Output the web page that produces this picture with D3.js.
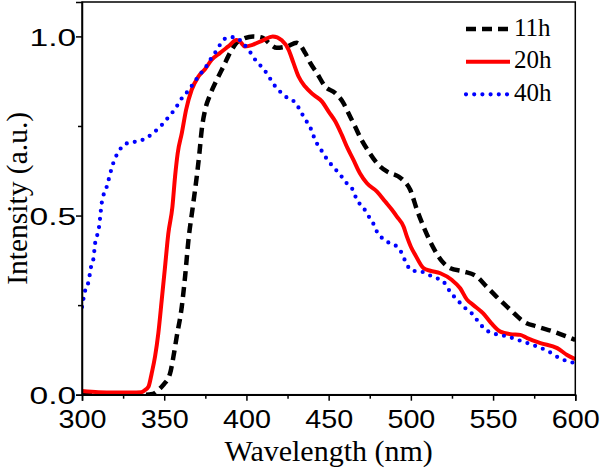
<!DOCTYPE html>
<html><head><meta charset="utf-8">
<script src="https://cdn.jsdelivr.net/npm/d3@7"></script>
<style>body{margin:0;background:#fff}</style>
</head><body>
<svg id="c" width="600" height="470"></svg>
<script>
const xTicks = [300, 350, 400, 450, 500, 550, 600];
const xMinor = [325, 375, 425, 475, 525, 575];
const yTicks = [0, 0.5, 1.0];
const yMinor = [0.25, 0.75];
const seriesNames = ["11h", "20h", "40h"];

const wl11 = [300,338,343,347.5,350,353.6,355.6,357.6,360.7,362.7,364.7,367.4,369.8,371.4,372.8,374.9,377.9,382,386,390,394,399,404,410,414,418.4,424.6,430.6,435.7,438.8,442.8,447.9,454,459,462,466,470,474.3,479.4,485.4,492.5,495,499.6,503.7,507.7,512.8,519,524,532,540,546,552,560.5,568.6,576.7,586.8,595,600];
const int11 = [0,0,0.002,0.018,0.03,0.06,0.106,0.162,0.246,0.33,0.43,0.525,0.609,0.674,0.739,0.795,0.837,0.879,0.916,0.954,0.982,0.995,1.0,0.996,0.98,0.968,0.972,0.982,0.954,0.926,0.898,0.86,0.842,0.814,0.786,0.749,0.711,0.679,0.646,0.623,0.609,0.6,0.572,0.516,0.469,0.418,0.372,0.353,0.344,0.33,0.302,0.274,0.237,0.204,0.19,0.176,0.162,0.153];

const wl20 = [300,310,320,330,336,338,340.4,342.4,344.4,346.4,348.5,350.5,352.5,355,356.6,358.2,360.7,363.3,366.7,370.8,374.9,378.9,384,389,394,396,399,404,410,416,421.5,425.6,428.6,431.7,435.7,440.8,446,450,454,458,461.5,465,469,473.3,479.4,484.4,488.5,491.5,495.6,497.6,500,502.7,507.7,511.8,517.9,525,530,534,538,544,549,554.4,560.5,566.6,570.7,578.8,589,595,600];
const int20 = [0.01,0.007,0.006,0.006,0.007,0.012,0.022,0.06,0.106,0.171,0.265,0.357,0.45,0.525,0.609,0.674,0.73,0.795,0.851,0.888,0.909,0.935,0.954,0.972,0.99,0.986,0.972,0.977,0.989,1.0,0.989,0.963,0.926,0.888,0.86,0.837,0.818,0.79,0.763,0.725,0.688,0.656,0.618,0.59,0.567,0.539,0.516,0.497,0.469,0.441,0.413,0.39,0.353,0.346,0.339,0.32,0.297,0.266,0.25,0.227,0.199,0.176,0.169,0.167,0.158,0.144,0.13,0.111,0.099];

const wl40 = [300,302,304,305.5,307,308,309.3,310.4,311.4,312,315,319,324,329,334,339,344,349,353,357,360,364,368,371,375,378,381,384,388,393,398,402,405,409,413,416,420,425,430,433,436,439,441,443,446,449,453,457,461,465,467,471,474,477,479,483,488,492,495,497,501,506,511,516,521,524,528,532,537,541,545,550,554,559,565,574,584,590,600];
const int40 = [0.245,0.292,0.316,0.357,0.381,0.423,0.446,0.469,0.511,0.535,0.58,0.646,0.69,0.704,0.707,0.716,0.733,0.755,0.777,0.8,0.823,0.845,0.87,0.89,0.912,0.935,0.955,0.977,0.996,0.998,0.98,0.958,0.937,0.916,0.893,0.87,0.848,0.828,0.814,0.79,0.767,0.744,0.72,0.7,0.679,0.657,0.635,0.614,0.59,0.569,0.545,0.523,0.5,0.479,0.458,0.435,0.421,0.412,0.39,0.368,0.346,0.344,0.334,0.325,0.309,0.286,0.266,0.246,0.227,0.204,0.183,0.171,0.167,0.162,0.153,0.139,0.12,0.103,0.088];

const svg = d3.select("#c");
const L = 82, R = 575.3, T = 2, B = 394.7;
const x = d3.scaleLinear().domain([300, 600]).range([L, R]);
const y = d3.scaleLinear().domain([0, 1.096]).range([B, T]);

svg.append("defs").append("clipPath").attr("id","clip")
  .append("rect").attr("x",L).attr("y",T).attr("width",R-L).attr("height",B-T);

const styles = [
  {color:"#000", width:4.5, dash:"10 6", cap:"butt"},
  {color:"#ff0000", width:4, dash:null, cap:"butt"},
  {color:"#0000ff", width:4.2, dash:"0 8.2", cap:"round"}
];
const series = [
  wl11.map((w,i)=>[w,int11[i]]),
  wl20.map((w,i)=>[w,int20[i]]),
  wl40.map((w,i)=>[w,int40[i]])
];
const line = d3.line().x(d=>x(d[0])).y(d=>y(d[1])).curve(d3.curveMonotoneX);
const g = svg.append("g").attr("clip-path","url(#clip)");
series.forEach((s,i)=>{
  const st = styles[i];
  g.append("path").datum(s).attr("d", line)
    .attr("fill","none").attr("stroke", st.color).attr("stroke-width", st.width)
    .attr("stroke-dasharray", st.dash).attr("stroke-linecap", st.cap)
    .attr("stroke-linejoin","round");
});

// frame
svg.append("rect").attr("x",L).attr("y",T).attr("width",R-L).attr("height",B-T)
  .attr("fill","none").attr("stroke","#000").attr("stroke-width",1.5);

// axes
const xAxis = svg.append("g").attr("transform",`translate(0,${B})`)
  .call(d3.axisBottom(x).tickValues(xTicks).tickSize(6).tickPadding(9.8).tickFormat(d3.format("d")));
svg.append("g").attr("transform",`translate(0,${B})`)
  .call(d3.axisBottom(x).tickValues(xMinor).tickSize(4).tickFormat(""))
  .call(g=>g.select(".domain").remove());
const yAxis = svg.append("g").attr("transform",`translate(${L},0)`)
  .call(d3.axisLeft(y).tickValues(yTicks).tickSize(6).tickFormat(d3.format(".1f")));
svg.append("g").attr("transform",`translate(${L},0)`)
  .call(d3.axisLeft(y).tickValues(yMinor).tickSize(4).tickFormat(""))
  .call(g=>g.select(".domain").remove());
svg.selectAll(".domain").attr("stroke-width",1.5).attr("stroke","#000");
svg.selectAll(".tick line").attr("stroke-width",1.5).attr("stroke","#000");
svg.selectAll(".tick text").attr("font-family","'Liberation Sans', Arial, sans-serif").attr("fill","#000");
xAxis.selectAll(".tick text").attr("font-size",25).attr("transform","scale(1.15,1)");
const ySx = 1.4;
yAxis.selectAll(".tick text").attr("font-size",24).attr("transform",`scale(${ySx},1)`)
  .attr("text-anchor","start").attr("x",(29.5-L)/ySx).attr("dy","0.36em");

// titles
svg.append("text").attr("x",(L+R)/2).attr("y",461)
  .attr("text-anchor","middle").attr("font-family","'Liberation Serif','Times New Roman',serif")
  .attr("font-size",30).text("Wavelength (nm)");
svg.append("text").attr("transform",`translate(27,${(T+B)/2}) rotate(-90)`)
  .attr("text-anchor","middle").attr("font-family","'Liberation Serif','Times New Roman',serif")
  .attr("font-size",29.5).text("Intensity (a.u.)");

// legend
const legY = [29, 61.7, 94.3];
seriesNames.forEach((n,i)=>{
  const st = styles[i];
  svg.append("line").attr("x1",466).attr("x2",510).attr("y1",legY[i]).attr("y2",legY[i])
    .attr("stroke",st.color).attr("stroke-width",st.width)
    .attr("stroke-dasharray", st.dash).attr("stroke-linecap", st.cap);
  svg.append("text").attr("x",514).attr("y",legY[i]+6.5)
    .attr("font-family","'Liberation Serif','Times New Roman',serif")
    .attr("font-size",25).attr("fill","#000").text(n);
});
</script>
</body></html>
